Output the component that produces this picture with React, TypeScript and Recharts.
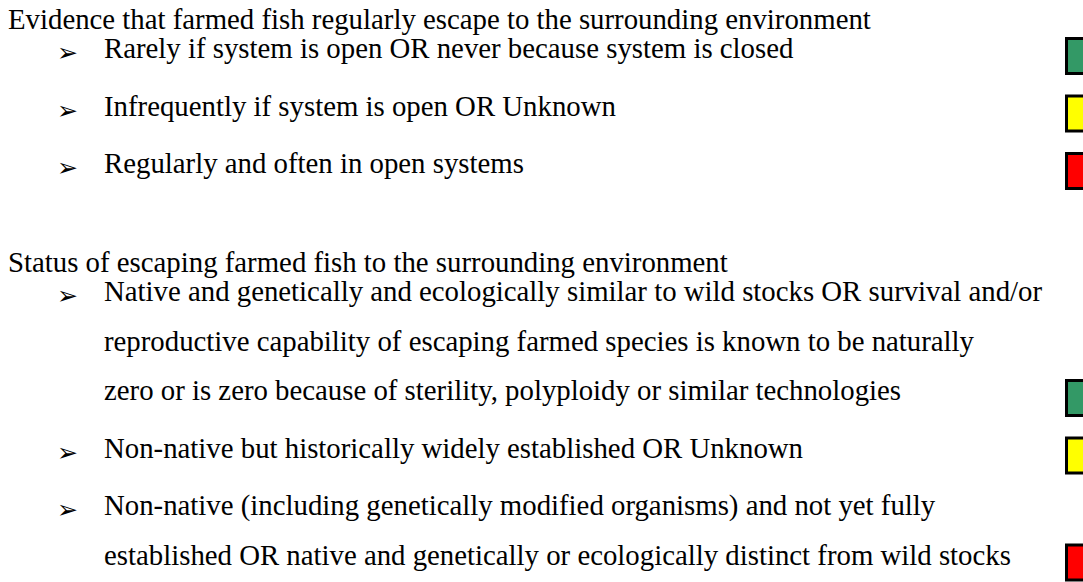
import React from 'react';
import { ScatterChart, Scatter, XAxis, YAxis } from 'recharts';

// one entry per printed line of the criteria sheet
const lineTexts = [
  'Evidence that farmed fish regularly escape to the surrounding environment',
  'Rarely if system is open OR never because system is closed',
  'Infrequently if system is open OR Unknown',
  'Regularly and often in open systems',
  'Status of escaping farmed fish to the surrounding environment',
  'Native and genetically and ecologically similar to wild stocks OR survival and/or',
  'reproductive capability of escaping farmed species is known to be naturally',
  'zero or is zero because of sterility, polyploidy or similar technologies',
  'Non-native but historically widely established OR Unknown',
  'Non-native (including genetically modified organisms) and not yet fully',
  'established OR native and genetically or ecologically distinct from wild stocks',
];
// heading = section title, item = bulleted line, wrap = continuation of a bullet
const lineKinds = ['heading', 'item', 'item', 'item', 'heading', 'item', 'wrap', 'wrap', 'item', 'item', 'wrap'];
// rating shown at the right of each option ('' = none on that line)
const lineRatings = ['', 'green', 'yellow', 'red', '', '', '', 'green', 'yellow', '', 'red'];

const ratingColors: Record<string, string> = {
  green: '#339966',
  yellow: '#FFFF00',
  red: '#FF0000',
};

const W = 1083;
const H = 582;
const FONT = '"Liberation Serif", "Times New Roman", serif';
const FONT_SIZE = 28.8;

// baseline-to-baseline spacing between printed lines (document flow)
const spacing = { first: 29, headingToItem: 29, item: 57.5, wrap: 49.5, section: 99 };

const rows = lineTexts.map((text, i) => ({ text, kind: lineKinds[i], rating: lineRatings[i] }));
let cursor = 0;
const laidOut = rows.map((r, i) => {
  if (i === 0) cursor = spacing.first;
  else if (r.kind === 'heading') cursor += spacing.section;
  else if (rows[i - 1].kind === 'heading') cursor += spacing.headingToItem;
  else if (r.kind === 'wrap') cursor += spacing.wrap;
  else cursor += spacing.item;
  return { ...r, line: cursor };
});
const textRows = laidOut.map((r) => ({ ...r, col: 0 }));
const marks = laidOut.filter((r) => r.rating !== '').map((r) => ({ ...r, col: 1 }));

const LineText = (props: any) => {
  const { cx, cy, payload } = props;
  const textX = cx + (payload.kind === 'heading' ? 8 : 104);
  return (
    <g>
      {payload.kind === 'item' && (
        <text x={cx + 57} y={cy + 3} fontFamily='"DejaVu Sans", sans-serif' fontSize={25} fill="#000">
          ➢
        </text>
      )}
      <text x={textX} y={cy} fontFamily={FONT} fontSize={FONT_SIZE} fill="#000">
        {payload.text}
      </text>
    </g>
  );
};

const RatingBox = (props: any) => {
  const { cx, cy, payload } = props;
  return (
    <rect
      x={cx + 1.5}
      y={cy - 19.5}
      width={30}
      height={35}
      fill={ratingColors[payload.rating]}
      stroke="#000"
      strokeWidth={3}
    />
  );
};

export default function App() {
  return (
    <div style={{ position: 'absolute', left: 0, top: 0, width: W, height: H }}>
      <ScatterChart width={W} height={H} margin={{ top: 0, right: 18, bottom: 0, left: 0 }}>
        <XAxis type="number" dataKey="col" domain={[0, 1]} hide />
        <YAxis type="number" dataKey="line" domain={[0, H]} reversed hide />
        <Scatter data={textRows} shape={<LineText />} isAnimationActive={false} />
        <Scatter data={marks} shape={<RatingBox />} isAnimationActive={false} />
      </ScatterChart>
    </div>
  );
}
